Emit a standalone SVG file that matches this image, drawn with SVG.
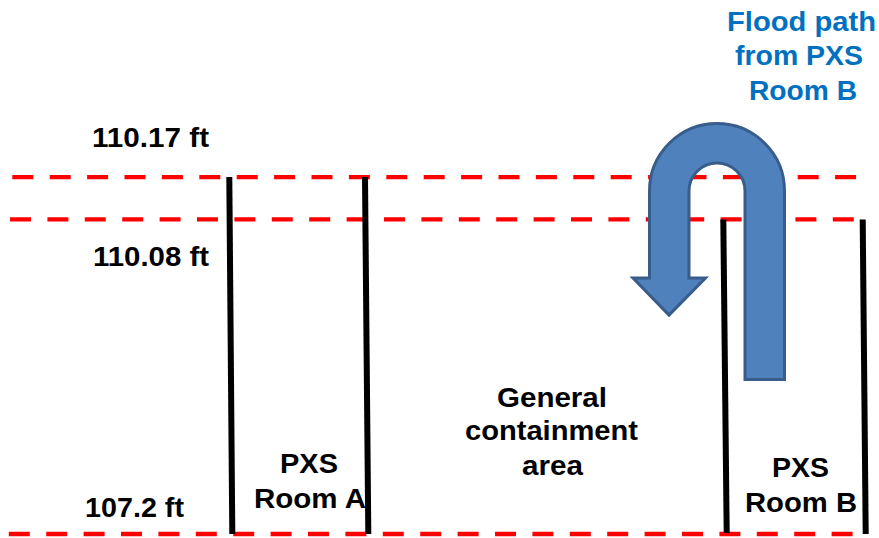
<svg xmlns="http://www.w3.org/2000/svg" width="879" height="538" viewBox="0 0 879 538">
<style>
.dash{stroke:#FF0000;stroke-width:4.3;stroke-dasharray:21 16.4;fill:none}
.wall{stroke:#000000;stroke-width:6;fill:none}
.lbl{font-family:"Liberation Sans",Arial,sans-serif;font-weight:bold;font-size:27px;fill:#000000}
.blue{fill:#0070C0}
</style>
<rect width="879" height="538" fill="#FFFFFF"/>
<g id="levels">
<line class="dash" x1="12.3" y1="177.2" x2="858" y2="177.2"/>
<line class="dash" x1="10" y1="219.3" x2="858" y2="219.3"/>
<line class="dash" x1="8.8" y1="534" x2="858" y2="534"/>
</g>
<g id="walls">
<line class="wall" x1="229.3" y1="177" x2="232.3" y2="534"/>
<line class="wall" x1="365" y1="177" x2="368.3" y2="534"/>
<line class="wall" x1="723.3" y1="219.5" x2="726.7" y2="533"/>
<line class="wall" x1="862.7" y1="219.5" x2="865.7" y2="534"/>
</g>
<g id="flood-arrow">
<path d="M 784.5 191 L 784.5 379.5 L 745 379.5 L 745 191 A 28 28 0 0 0 689 191 L 689 278 L 705.5 278 L 669 315 L 633 278 L 649.5 278 L 649.5 191 A 67.5 67.5 0 0 1 784.5 191 Z" fill="#4F81BD" stroke="#385D8A" stroke-width="3" stroke-linejoin="miter"/>
</g>
<g id="title">
<text class="lbl blue" x="727" y="31" textLength="149" lengthAdjust="spacingAndGlyphs">Flood path</text>
<text class="lbl blue" x="735" y="65" textLength="128" lengthAdjust="spacingAndGlyphs">from PXS</text>
<text class="lbl blue" x="749" y="100" textLength="108" lengthAdjust="spacingAndGlyphs">Room B</text>
</g>
<g id="elevation-labels">
<text class="lbl" x="92" y="147" textLength="117" lengthAdjust="spacingAndGlyphs">110.17 ft</text>
<text class="lbl" x="93" y="266" textLength="116" lengthAdjust="spacingAndGlyphs">110.08 ft</text>
<text class="lbl" x="85" y="517" textLength="99" lengthAdjust="spacingAndGlyphs">107.2 ft</text>
</g>
<g id="general-containment">
<text class="lbl" x="497" y="407" textLength="110" lengthAdjust="spacingAndGlyphs">General</text>
<text class="lbl" x="465" y="440" textLength="173" lengthAdjust="spacingAndGlyphs">containment</text>
<text class="lbl" x="522" y="475" textLength="61" lengthAdjust="spacingAndGlyphs">area</text>
</g>
<g id="pxs-room-a">
<text class="lbl" x="280" y="473" textLength="58" lengthAdjust="spacingAndGlyphs">PXS</text>
<text class="lbl" x="254" y="508" textLength="112" lengthAdjust="spacingAndGlyphs">Room A</text>
</g>
<g id="pxs-room-b">
<text class="lbl" x="772" y="477" textLength="57" lengthAdjust="spacingAndGlyphs">PXS</text>
<text class="lbl" x="745" y="512" textLength="112" lengthAdjust="spacingAndGlyphs">Room B</text>
</g>
</svg>
